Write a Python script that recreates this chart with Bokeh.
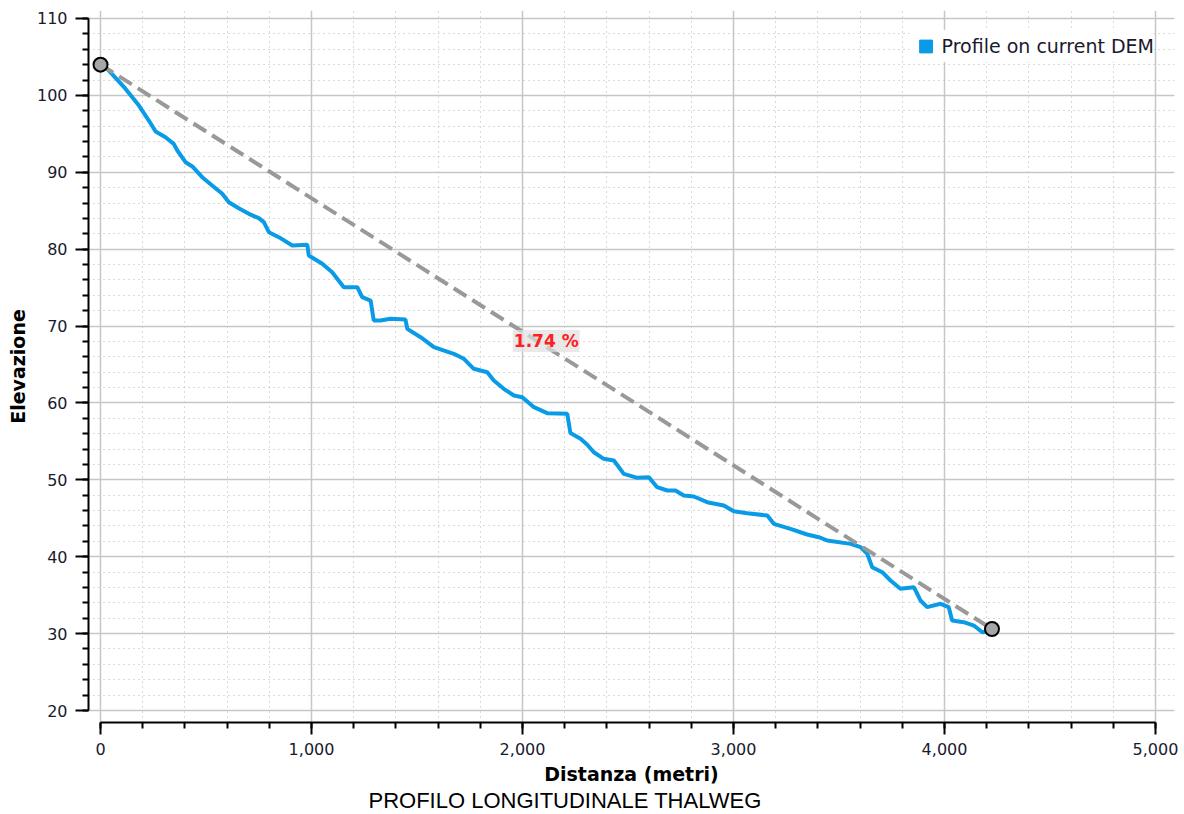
from bokeh.plotting import figure
from bokeh.models import (Range1d, SingleIntervalTicker, NumeralTickFormatter, Label,
                          Legend, LegendItem, Title)
from bokeh.embed import file_html
from bokeh.resources import INLINE

# ---- data ----
distance = [0, 32, 118, 182, 229, 261, 308, 347, 364, 403, 435, 482, 529, 577, 608, 655,
            703, 750, 774, 798, 845, 909, 980, 987, 1051, 1098, 1153, 1217, 1240, 1280,
            1295, 1327, 1374, 1445, 1454, 1517, 1580, 1674, 1722, 1769, 1833, 1864, 1911,
            1959, 1999, 2054, 2117, 2212, 2227, 2275, 2307, 2338, 2385, 2433, 2480, 2544,
            2599, 2638, 2686, 2725, 2764, 2812, 2875, 2954, 3001, 3065, 3160, 3191, 3270,
            3349, 3404, 3444, 3555, 3602, 3634, 3657, 3705, 3744, 3791, 3855, 3886, 3918,
            3981, 4020, 4036, 4091, 4139, 4179, 4215]
elevation = [104.0, 103.45, 100.87, 98.68, 96.73, 95.3, 94.56, 93.7, 92.83, 91.31, 90.76,
             89.36, 88.29, 87.2, 86.11, 85.33, 84.6, 84.03, 83.51, 82.21, 81.56, 80.48,
             80.57, 79.18, 78.1, 77.0, 75.05, 75.05, 73.75, 73.32, 70.72, 70.72, 70.94,
             70.85, 69.64, 68.55, 67.25, 66.39, 65.74, 64.44, 64.0, 62.92, 61.84, 60.97,
             60.75, 59.45, 58.67, 58.59, 56.09, 55.34, 54.57, 53.59, 52.73, 52.51, 50.78,
             50.26, 50.34, 49.04, 48.61, 48.61, 47.96, 47.83, 47.09, 46.66, 45.92, 45.66,
             45.36, 44.28, 43.63, 42.89, 42.54, 42.11, 41.67, 41.24, 40.38, 38.64, 37.99,
             36.91, 35.83, 36.04, 34.31, 33.44, 33.88, 33.44, 31.71, 31.49, 31.05, 30.18,
             30.3]
slope_x = [0, 4225]
slope_y = [104.0, 30.6]
slope_pct = (slope_y[0] - slope_y[1]) / (slope_x[1] - slope_x[0]) * 100
slope_text = f"{slope_pct:.2f} %"
legend_label = "Profile on current DEM"
x_title = "Distanza (metri)"
y_title = "Elevazione"
chart_title = "PROFILO LONGITUDINALE THALWEG"

BLUE = "#0a9be6"
GRID = "#c6c6c6"
TXT = "#1a1a2e"

p = figure(width=1184, height=814, x_range=Range1d(-57, 5090), y_range=Range1d(18.44, 111.04),
           output_backend="svg", toolbar_location=None,
           min_border_left=88, min_border_right=10, min_border_top=10, min_border_bottom=92)
p.outline_line_color = None
p.background_fill_color = "white"

xt = SingleIntervalTicker(interval=1000, num_minor_ticks=5)
yt = SingleIntervalTicker(interval=10, num_minor_ticks=5)
p.xaxis.ticker = xt
p.yaxis.ticker = yt
p.xgrid.ticker = xt
p.ygrid.ticker = yt
p.xaxis.formatter = NumeralTickFormatter(format="0,0")
p.xaxis.bounds = (0, 5000)
p.yaxis.bounds = (20, 110)

for g in (p.xgrid[0], p.ygrid[0]):
    g.grid_line_color = GRID
    g.grid_line_width = 1.5
    g.minor_grid_line_color = "#b4b4b4"
    g.minor_grid_line_width = 1
    g.minor_grid_line_dash = "1 4"

for ax in (p.xaxis[0], p.yaxis[0]):
    ax.axis_line_color = "black"
    ax.axis_line_width = 2
    ax.major_tick_line_color = "black"
    ax.major_tick_line_width = 2
    ax.minor_tick_line_color = "black"
    ax.minor_tick_line_width = 2
    ax.major_tick_in = 0
    ax.minor_tick_in = 0
    ax.minor_tick_out = 6
    ax.major_label_text_font = "DejaVu Sans"
    ax.major_label_text_font_size = "16px"
    ax.major_label_text_color = TXT
    ax.axis_label_text_font = "DejaVu Sans"
    ax.axis_label_text_font_size = "19px"
    ax.axis_label_text_font_style = "bold"
    ax.axis_label_text_color = "black"

p.xaxis.major_tick_out = 12
p.yaxis.major_tick_out = 13
p.xaxis.major_label_standoff = 8
p.yaxis.major_label_standoff = 8
p.xaxis.axis_label_standoff = 5
p.yaxis.axis_label_standoff = 5
p.xaxis.axis_label = x_title
p.yaxis.axis_label = y_title

p.line(distance, elevation, line_color=BLUE, line_width=4)
p.line(slope_x, slope_y, line_color="#999999", line_width=4, line_dash="15 7")
p.scatter(slope_x, slope_y, size=14, fill_color="#a6a6a6", line_color="black", line_width=2)

mid_x = (slope_x[0] + slope_x[1]) / 2
mid_y = (slope_y[0] + slope_y[1]) / 2 + 0.75
p.add_layout(Label(x=mid_x, y=mid_y, text=slope_text, text_color="#ff2020",
                   text_font="DejaVu Sans", text_font_style="bold", text_font_size="17px",
                   text_align="center", text_baseline="middle",
                   background_fill_color="#e0e0e0", background_fill_alpha=0.7, padding=1))

# off-range point only to provide the square legend glyph
dummy = p.scatter(x=[-10000], y=[0], marker="square", size=13, fill_color=BLUE, line_color=BLUE)
legend = Legend(items=[LegendItem(label=legend_label, renderers=[dummy])],
                location="top_right", glyph_width=32, glyph_height=32, label_standoff=0,
                padding=5, margin=20, border_line_color=None,
                background_fill_color="white", background_fill_alpha=1.0,
                label_text_font="DejaVu Sans", label_text_font_size="19px",
                label_text_color=TXT)
p.add_layout(legend)

title = Title(text=chart_title, align="left", offset=280, standoff=0, vertical_align="top",
              text_font="Liberation Sans", text_font_size="22px", text_font_style="normal",
              text_color="black")
p.add_layout(title, "below")

open("out.html", "w").write(file_html(p, INLINE))
